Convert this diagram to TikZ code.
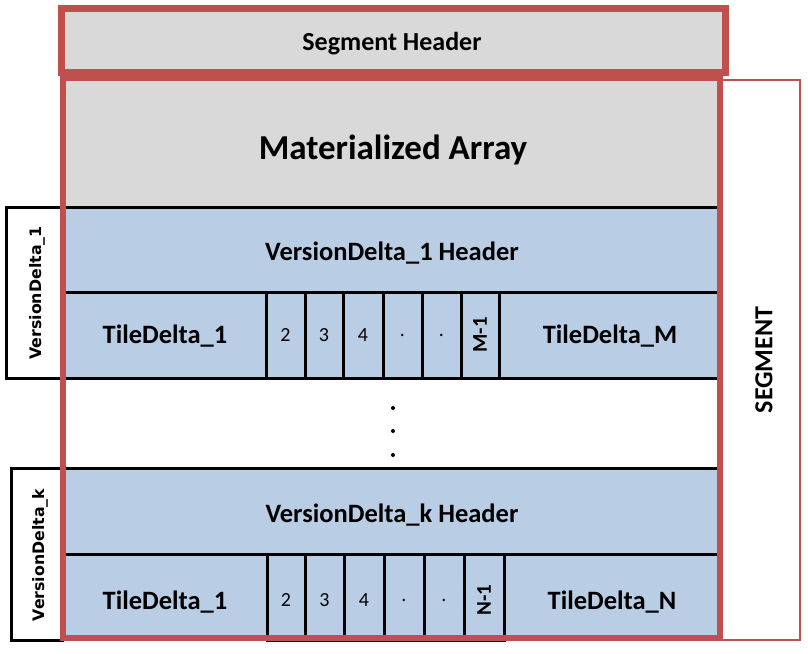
\documentclass[tikz,border=0pt]{standalone}
\usepackage{fontspec}
\usepackage{graphicx}
\setmainfont{Carlito}
\newfontfamily\sidefont{DejaVu Sans}
\usetikzlibrary{calc}
\definecolor{segred}{HTML}{C0504D}
\definecolor{arraygray}{HTML}{D9D9D9}
\definecolor{deltablue}{HTML}{B9CDE5}

\begin{document}
\begin{tikzpicture}[x=1pt,y=-1pt,
    redframe/.style={draw=segred, line width=6pt},
    sepline/.style={draw=black, line width=3pt},
    celltext/.style={font=\fontsize{20}{20}\selectfont},
    bigtext/.style={font=\bfseries\fontsize{26.5}{26.5}\selectfont},
    sidelabel/.style={font=\sidefont\bfseries\fontsize{15.8}{15.8}\selectfont, rotate=90}]

    \useasboundingbox (0,0) rectangle (808,653);

    % Draw the segment header
    \fill[arraygray] (60,7) rectangle (725,75);
    \node[font=\bfseries\fontsize{26}{26}\selectfont] (seghdr) at (392,44) {Segment Header};

    % Draw the materialized array
    \fill[arraygray] (62,75) rectangle (721,207);
    \node[font=\bfseries\fontsize{35}{35}\selectfont] (matarr) at (393,150) {Materialized Array};

    % Draw the SEGMENT side box
    \draw[segred, line width=2pt] (721,80) rectangle (800,640);
    \node[font=\bfseries\fontsize{26}{26}\selectfont, rotate=90] (seglab) at (764,360) {SEGMENT};

    % Draw VersionDelta_1
    \fill[deltablue] (62,207) rectangle (721,378);
    \draw[sepline] (64,207) -- (720,207);
    \draw[sepline] (64,292) -- (720,292);
    \draw[sepline] (64,378) -- (720,378);
    \node[bigtext] (vdonehdr) at (392,253) {VersionDelta\_1 Header};
    \node[bigtext] (vdonefirst) at (165,336) {TileDelta\_1};
    \node[bigtext] (vdonelast) at (610,336) {TileDelta\_M};
    \foreach \xa/\xb/\lab [count=\i] in {266/305/2, 305/343/3, 343/383/4, 383/422/., 422/461/.,
        461/499/\rotatebox{90}{\bfseries\fontsize{21}{21}\selectfont M-1}} {
        \draw[sepline] (\xa,292) rectangle (\xb,378);
        \node[celltext] (vdonecell\i) at ({(\xa+\xb)/2},335) {\lab};
    }
    \draw[sepline, fill=white] (6,207) rectangle (62,378);
    \node[sidelabel] (vdonelab) at (37,293) {VersionDelta\_1};

    % Dots between the deltas
    \fill (393,408) circle (2pt);
    \fill (393,431) circle (2pt);
    \fill (393,455) circle (2pt);

    % Draw VersionDelta_k
    \fill[deltablue] (62,468) rectangle (721,640);
    \draw[sepline] (64,468) -- (720,468);
    \draw[sepline] (64,554) -- (720,554);
    \node[bigtext] (vdkhdr) at (392,515) {VersionDelta\_k Header};
    \node[bigtext] (vdkfirst) at (165,602) {TileDelta\_1};
    \node[bigtext] (vdklast) at (612,602) {TileDelta\_N};
    \foreach \xa/\xb/\lab [count=\i] in {267/305/2, 305/344/3, 344/384/4, 384/424/., 424/464/.,
        464/504/\rotatebox{90}{\bfseries\fontsize{21}{21}\selectfont N-1}} {
        \draw[sepline] (\xa,554) rectangle (\xb,640);
        \node[celltext] (vdkcell\i) at ({(\xa+\xb)/2},600) {\lab};
    }
    \draw[sepline, fill=white] (11,468) rectangle (62,640);
    \node[sidelabel] (vdklab) at (40,555) {VersionDelta\_k};

    % Red frames on top
    \draw[redframe] (63,78) rectangle (720,638);
    \draw[redframe, line width=7pt] (61,8) rectangle (725,72);
\end{tikzpicture}
\end{document}
